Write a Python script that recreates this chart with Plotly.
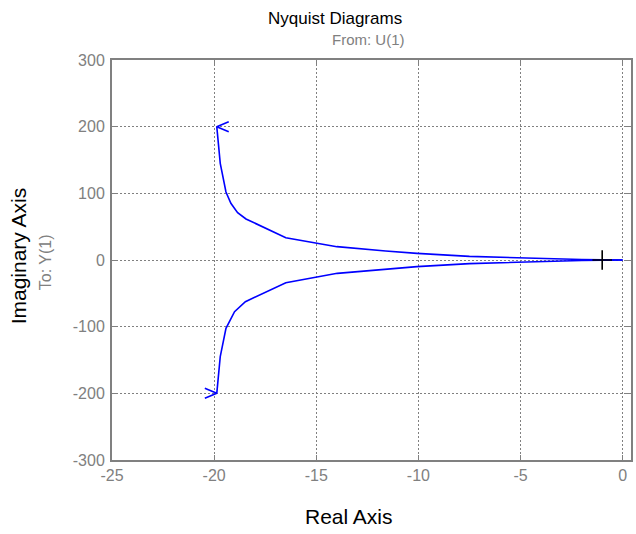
import plotly.graph_objects as go

# Positive-frequency branch (lower half)
re_pos = [-19.87, -19.70, -19.42, -19.00, -18.47, -16.49, -13.97, -11.60, -10.07, -7.50, -5.00, -3.50, -2.00, -1.00, -0.30, 0.0]
im_pos = [-200.0, -145.0, -102.5, -77.5, -62.5, -34.0, -20.0, -13.5, -10.0, -5.5, -3.0, -1.6, -0.7, -0.2, -0.03, 0.0]
# Negative-frequency branch (upper half)
re_neg = [-19.87, -19.70, -19.42, -19.18, -18.85, -18.44, -16.49, -13.99, -11.60, -10.07, -7.50, -5.00, -3.50, -2.00, -1.00, -0.30, 0.0]
im_neg = [200.0, 145.0, 102.0, 85.0, 71.0, 61.5, 33.5, 20.0, 13.5, 10.0, 5.5, 3.0, 1.6, 0.7, 0.2, 0.03, 0.0]
critical_point = (-1, 0)

x_ticks = [-25, -20, -15, -10, -5, 0]
y_ticks = [-300, -200, -100, 0, 100, 200, 300]
x_range = [-25, 0.41]
y_range = [-300, 300]

W, H = 636, 534
ML, MR, MT, MB = 112, 3, 60, 74
pw, ph = W - ML - MR, H - MT - MB
ux = (x_range[1] - x_range[0]) / pw   # data units per px
uy = (y_range[1] - y_range[0]) / ph

GREY = "#808080"
BLUE = "#0000ff"
FONT = "Liberation Sans, Arial, sans-serif"


def px_x(p):
    return (p - ML) / pw


def px_y(p):
    return (MT + ph - p) / ph


fig = go.Figure()
fig.add_trace(go.Scatter(x=re_neg, y=im_neg, mode="lines", line=dict(color=BLUE, width=1.6), hoverinfo="skip"))
fig.add_trace(go.Scatter(x=re_pos, y=im_pos, mode="lines", line=dict(color=BLUE, width=1.6), hoverinfo="skip"))

# arrow chevrons at the low-frequency ends
adx, ady = 12 * ux, 5 * uy
tx, ty = re_neg[0], im_neg[0]
fig.add_trace(go.Scatter(x=[tx + adx, tx, tx + adx], y=[ty + ady, ty, ty - ady], mode="lines",
                         line=dict(color=BLUE, width=1.6), hoverinfo="skip"))
tx, ty = re_pos[0], im_pos[0]
fig.add_trace(go.Scatter(x=[tx - adx, tx, tx - adx], y=[ty + ady, ty, ty - ady], mode="lines",
                         line=dict(color=BLUE, width=1.6), hoverinfo="skip"))

fig.add_trace(go.Scatter(x=[critical_point[0]], y=[critical_point[1]], mode="markers",
                         marker=dict(symbol="cross-thin", size=14, line=dict(color="black", width=1.6)),
                         hoverinfo="skip"))

axis_common = dict(showline=True, mirror="allticks", linecolor=GREY, linewidth=2,
                   ticks="inside", ticklen=5, tickcolor=GREY, tickwidth=1,
                   showgrid=True, gridcolor=GREY, gridwidth=1, griddash="2px,2px",
                   zeroline=False, tickfont=dict(family=FONT, size=16, color=GREY))
fig.update_xaxes(range=x_range, tickvals=x_ticks, ticktext=[str(v) for v in x_ticks], **axis_common)
fig.update_yaxes(range=y_range, tickvals=y_ticks, ticktext=[str(v) for v in y_ticks],
                 ticklabelstandoff=2, **axis_common)

fig.update_layout(
    width=W, height=H, margin=dict(l=ML, r=MR, t=MT, b=MB),
    paper_bgcolor="white", plot_bgcolor="white", showlegend=False,
    font=dict(family=FONT),
    annotations=[
        dict(text="Nyquist Diagrams", x=px_x(336), y=px_y(18), xref="paper", yref="paper",
             showarrow=False, font=dict(size=17, color="black"), xanchor="center", yanchor="middle"),
        dict(text="From: U(1)", x=px_x(369), y=px_y(40), xref="paper", yref="paper",
             showarrow=False, font=dict(size=15, color=GREY), xanchor="center", yanchor="middle"),
        dict(text="Real Axis", x=px_x(350), y=px_y(516), xref="paper", yref="paper",
             showarrow=False, font=dict(size=21, color="black"), xanchor="center", yanchor="middle"),
        dict(text="Imaginary Axis", x=px_x(18), y=px_y(256), xref="paper", yref="paper",
             showarrow=False, textangle=-90, font=dict(size=21, color="black"), xanchor="center", yanchor="middle"),
        dict(text="To: Y(1)", x=px_x(45), y=px_y(262), xref="paper", yref="paper",
             showarrow=False, textangle=-90, font=dict(size=16, color=GREY), xanchor="center", yanchor="middle"),
    ],
)

fig.write_html("out.html", config={"displayModeBar": False},
               post_script="document.body.style.margin='0';")
